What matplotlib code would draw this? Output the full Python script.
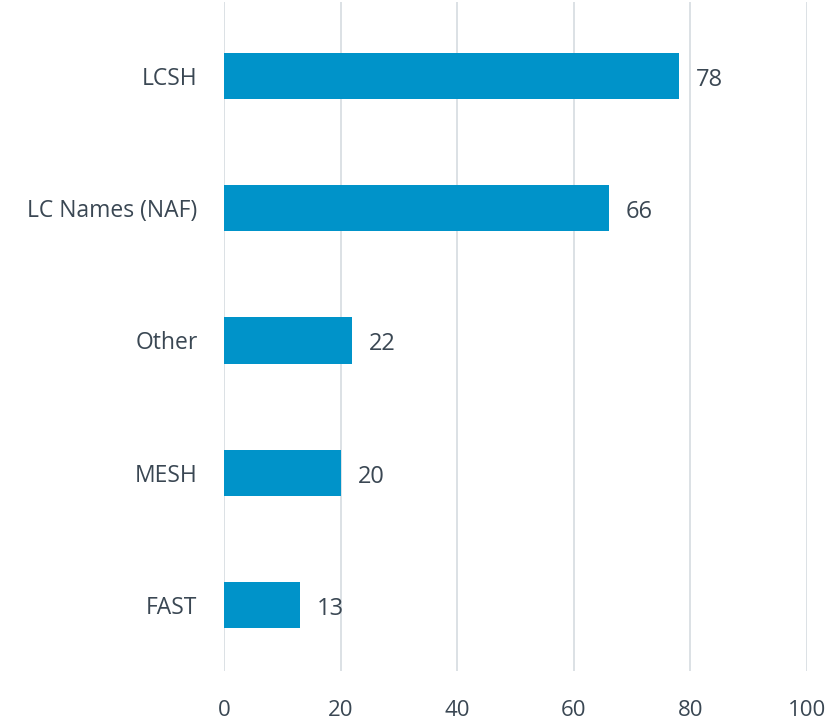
import matplotlib
matplotlib.use("Agg")
import matplotlib.pyplot as plt

categories = ["LCSH", "LC Names (NAF)", "Other", "MESH", "FAST"]
values = [78, 66, 22, 20, 13]
xticks = [0, 20, 40, 60, 80, 100]

plt.rcParams['font.family'] = ['Open Sans', 'DejaVu Sans']
text_color = "#3a4753"
bar_color = "#0093C9"

fig = plt.figure(figsize=(8.34, 7.24), dpi=100)
ax = fig.add_axes([224/834, 53/724, (807-224)/834, (671-2)/724])

ypos = list(range(len(categories)))[::-1]
ax.barh(ypos, values, height=0.35, color=bar_color, zorder=3)
for y, v in zip(ypos, values):
    ax.text(v + 2.9, y - 0.03, str(v), va="center", ha="left", fontsize=17, color=text_color)

ax.set_xlim(0, 100)
ax.set_ylim(-0.5, 4.56)
ax.set_xticks(xticks)
ax.set_xticklabels([str(t) for t in xticks], fontsize=16, color=text_color)
ax.set_yticks(ypos)
ax.set_yticklabels(categories, fontsize=16.5, color=text_color)
ax.tick_params(axis="x", length=0, pad=21)
ax.tick_params(axis="y", length=0, pad=19)
ax.grid(axis="x", color="#d9dee3", linewidth=1.3, zorder=0)
for s in ax.spines.values():
    s.set_visible(False)

fig.savefig("out.png", dpi=100)
